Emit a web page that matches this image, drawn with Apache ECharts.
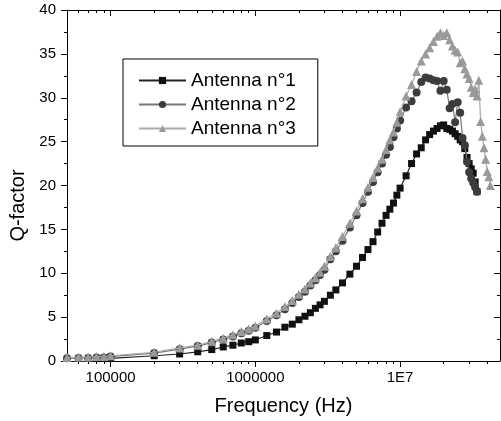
<!DOCTYPE html>
<html>
<head>
<meta charset="utf-8">
<script src="https://cdn.jsdelivr.net/npm/echarts@6/dist/echarts.min.js"></script>
<style>
  html, body { margin: 0; padding: 0; background: #fff; }
  #chart { width: 501px; height: 421px; }
</style>
</head>
<body>
<div id="chart"></div>
<script>
// frequency grid (Hz)
const freqs = [
  5e4, 6e4, 7e4, 8e4, 9e4,
  1e5, 2e5, 3e5, 4e5, 5e5, 6e5, 7e5, 8e5, 9e5,
  1e6, 1.2e6, 1.4e6, 1.6e6, 1.8e6,
  2e6, 2.2e6, 2.4e6, 2.6e6, 2.8e6,
  3e6, 3.3e6, 3.6e6,
  4e6, 4.5e6, 5e6, 5.5e6, 6e6, 6.5e6, 7e6, 7.5e6, 8e6, 8.5e6, 9e6, 9.5e6,
  1e7, 1.1e7, 1.2e7, 1.3e7, 1.4e7, 1.5e7, 1.6e7, 1.7e7, 1.8e7, 1.9e7,
  2e7, 2.1e7, 2.2e7, 2.3e7, 2.4e7, 2.5e7, 2.6e7, 2.7e7, 2.8e7, 2.9e7,
  3e7, 3.1e7, 3.2e7, 3.3e7, 3.4e7, 3.5e7, 3.6e7, 3.7e7, 3.8e7, 3.9e7,
  4e7, 4.1e7, 4.2e7
]
// Q-factor of each antenna (null = not measured)
const qAntenna1 = [
  null, null, null, null, null,
  0.3, 0.6, 0.8, 1.05, 1.3, 1.6, 1.8, 2.05, 2.2,
  2.4, 2.9, 3.3, 3.85, 4.2,
  4.7, 5.1, 5.5, 6.0, 6.4,
  6.8, 7.5, 8.1,
  8.9, 9.9, 10.8, 11.8, 12.7, 13.6, 14.7, 15.7, 16.6, 17.3, 18.0, 18.9,
  19.7, 21.1, 22.5, 23.6, 24.3, 25.2, 25.8, 26.2, 26.5, 26.8,
  26.9, 26.5, 26.4, 26.2, 25.9, 25.6, 25.2, 25.0, 24.2, 23.2,
  22.5, 21.9, 21.4, 20.4, 19.3, null, null, null, null, null,
  null, null, null
]
const qAntenna2 = [
  0.3, 0.35, 0.35, 0.4, 0.4,
  0.5, 0.9, 1.35, 1.7, 2.1, 2.45, 2.8, 3.15, 3.45,
  3.8, 4.55, 5.2, 5.9, 6.6,
  7.3, 7.9, 8.6, 9.2, 9.8,
  10.4, 11.6, 12.5,
  13.7, 15.2, 16.6, 18.0, 19.3, 20.4, 21.5, 22.5, 23.5, 24.4, 25.5, 26.5,
  27.4, 28.9, 29.6, 30.6, 31.8, 32.3, 32.2, 32.0, 31.9, 30.8,
  31.9, 30.9, 28.8, 29.3, 27.2, 29.5, 28.3, 25.4, 24.6, 22.7,
  21.5, 20.8, 20.3, 19.8, 19.3, null, null, null, null, null,
  null, null, null
]
const qAntenna3 = [
  0.4, 0.45, 0.45, 0.5, 0.5,
  0.6, 1.0, 1.5, 1.8, 2.25, 2.6, 3.0, 3.35, 3.65,
  4.0, 4.8, 5.45, 6.2, 6.9,
  7.6, 8.2, 8.9, 9.5, 10.1,
  10.8, 11.9, 12.9,
  14.2, 15.7, 17.1, 18.5, 19.8, 20.9, 22.0, 23.0, 24.1, 25.2, 26.1, 27.2,
  28.4, 30.2, 31.5, 33.0, 34.2, 35.0, 35.7, 36.4, 37.0, 37.4,
  37.1, 37.4, 36.6, 35.9, 35.4, 35.2, 34.0, 34.2, 33.3, 32.7,
  32.2, 31.2, 30.6, 31.0, 30.2, 32.0, 27.3, 25.6, 24.3, 23.0,
  21.6, 21.0, 20.0
]
const xMajorTicks = [1e5, 1e6, 1e7]
const xMinorTicks = [
  6e4, 7e4, 8e4, 9e4,
  2e5, 3e5, 4e5, 5e5, 6e5, 7e5, 8e5, 9e5,
  2e6, 3e6, 4e6, 5e6, 6e6, 7e6, 8e6, 9e6,
  2e7, 3e7, 4e7
]
const xMin = 5e4
const xMax = 4.9e7

const FONT = 'Liberation Sans'

const pairs = (vals) => freqs.map((f, i) => [f, vals[i]])

// one x axis (log) - majors or minors, bottom or top
function logAxis(position, ticks, len, inside, main) {
  return {
    type: 'log',
    logBase: 10,
    position: position,
    min: xMin,
    max: xMax,
    axisLine: { show: main, onZero: false, lineStyle: { color: '#000', width: 1 } },
    axisTick: { show: true, inside: inside, length: len, customValues: ticks, lineStyle: { color: '#000', width: 1 } },
    axisLabel: {
      show: main && position === 'bottom',
      customValues: ticks,
      margin: 9,
      color: '#000',
      fontSize: 15,
      fontFamily: FONT,
      formatter: (v) => {
        const n = Math.round(v)
        return n >= 1e7 ? '1E7' : String(n)
      }
    },
    splitLine: { show: false },
    minorTick: { show: false },
    name: main && position === 'bottom' ? 'Frequency (Hz)' : '',
    nameLocation: 'middle',
    nameGap: 35,
    nameTextStyle: { color: '#000', fontSize: 20, fontFamily: FONT }
  }
}

function valueAxis(position, inside, main) {
  return {
    type: 'value',
    position: position,
    min: 0,
    max: 40,
    interval: 5,
    axisLine: { show: true, onZero: false, lineStyle: { color: '#000', width: 1 } },
    axisTick: { show: true, inside: inside, length: 6, lineStyle: { color: '#000', width: 1 } },
    minorTick: { show: true, splitNumber: 2, length: 3, lineStyle: { color: '#000', width: 1 } },
    axisLabel: { show: main, margin: 11, color: '#000', fontSize: 15, fontFamily: FONT },
    splitLine: { show: false },
    name: main ? 'Q-factor' : '',
    nameLocation: 'middle',
    nameGap: 28,
    nameTextStyle: { color: '#000', fontSize: 20, fontFamily: FONT, padding: [0, 40, 0, 0] }
  }
}

const chart = echarts.init(document.getElementById('chart'), null, { renderer: 'canvas' })

const option = {
  animation: false,
  backgroundColor: '#fff',
  textStyle: { fontFamily: FONT },
  grid: { left: 67, right: 1, top: 10, bottom: 60, outerBoundsMode: 'none' },
  legend: {
    left: 123,
    top: 59,
    orient: 'vertical',
    itemWidth: 47,
    itemHeight: 9,
    itemGap: 5,
    padding: [12, 22, 8, 15],
    borderColor: '#000',
    borderWidth: 1,
    selectedMode: false,
    textStyle: { color: '#000', fontSize: 19, fontFamily: FONT, padding: [0, 0, 0, 0] }
  },
  xAxis: [
    logAxis('bottom', xMajorTicks, 6, false, true),
    logAxis('bottom', xMinorTicks, 3, false, false),
    logAxis('top', xMajorTicks, 6, true, true),
    logAxis('top', xMinorTicks, 3, true, false)
  ],
  yAxis: [
    valueAxis('left', false, true),
    valueAxis('right', true, false)
  ],
  series: [
    {
      name: 'Antenna n°1',
      type: 'line',
      data: pairs(qAntenna1),
      symbol: 'rect',
      symbolSize: 7,
      itemStyle: { color: '#111' },
      lineStyle: { color: '#222', width: 1.2 },
      z: 3
    },
    {
      name: 'Antenna n°2',
      type: 'line',
      data: pairs(qAntenna2),
      symbol: 'circle',
      symbolSize: 8,
      itemStyle: { color: '#3c3c3c' },
      lineStyle: { color: '#777', width: 1.2 },
      z: 4
    },
    {
      name: 'Antenna n°3',
      type: 'line',
      data: pairs(qAntenna3),
      symbol: 'triangle',
      symbolSize: 9,
      itemStyle: { color: '#9a9a9a' },
      lineStyle: { color: '#aaa', width: 1.2 },
      z: 5
    }
  ]
}

chart.setOption(option)
</script>
</body>
</html>
